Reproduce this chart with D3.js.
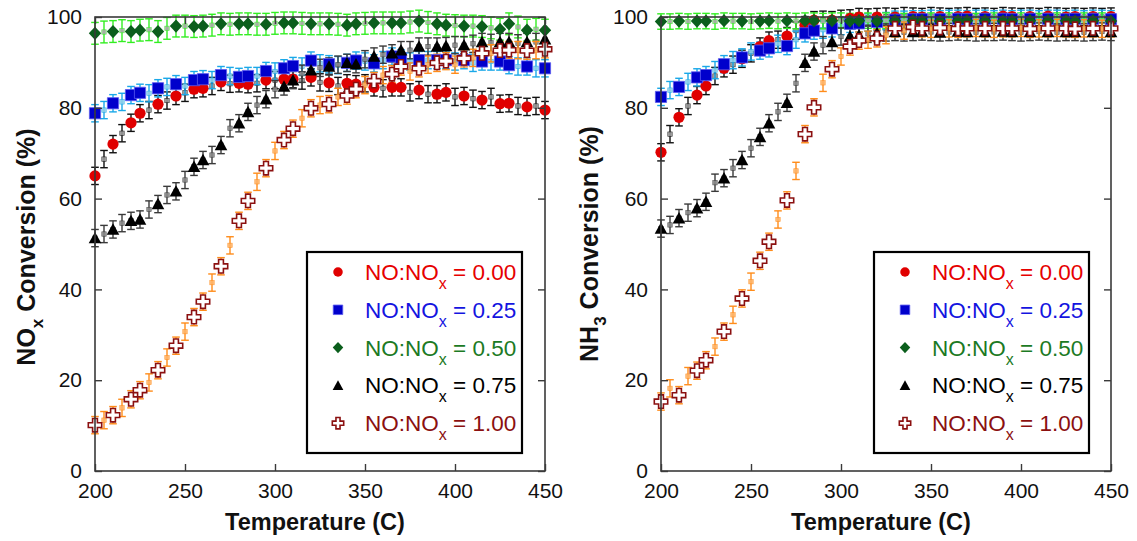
<!DOCTYPE html>
<html><head><meta charset="utf-8">
<script src="https://cdn.jsdelivr.net/npm/d3@7"></script>
<style>body{margin:0;background:#fff}svg{font-family:"Liberation Sans",Arial,sans-serif}</style>
</head><body><svg id="c" width="1137" height="541"></svg>
<script>
// ---- data ----
const temps = [200,205,210,215,220,225,230,235,240,245,250,255,260,265,270,275,280,285,290,295,300,305,310,315,320,325,330,335,340,345,350,355,360,365,370,375,380,385,390,395,400,405,410,415,420,425,430,435,440,445,450];
const markerTemps = [200,210,220,225,235,245,255,260,270,280,285,295,305,310,320,330,340,345,355,365,370,380,390,395,405,415,425,430,440,450];
const xTicks = [200,250,300,350,400,450];
const yTicks = [0,20,40,60,80,100];
const seriesLabels = ["0.00","0.25","0.50","0.75","1.00"];

// NOx conversion (left)
const noxR00 = [65.0,68.7,72.0,74.4,76.7,78.8,79.5,80.8,81.6,82.6,83.3,84.1,84.3,84.8,85.7,85.3,85.4,85.2,85.4,86.1,86.1,86.3,86.3,86.0,86.7,85.6,85.5,84.8,85.4,85.2,85.4,84.5,84.3,84.5,84.5,83.4,83.9,83.0,83.0,83.4,82.4,82.6,82.0,81.7,82.4,80.9,81.0,80.4,80.2,80.4,79.5];
const noxR25 = [78.8,79.5,81.0,81.3,82.8,83.3,83.2,84.3,84.6,85.2,84.8,86.1,86.3,86.1,87.2,87.0,86.8,87.0,87.0,88.1,88.0,88.7,89.2,89.1,90.4,89.8,89.6,89.4,89.9,90.4,90.2,89.8,90.5,91.3,90.9,90.2,90.5,90.5,90.5,90.5,90.2,90.5,89.9,90.2,90.2,90.2,89.4,89.1,89.1,88.7,88.7];
const noxR50 = [96.4,96.7,96.8,97.0,96.8,97.1,97.2,96.8,97.5,98.0,98.0,97.9,98.0,98.2,98.5,98.4,98.5,98.5,98.4,98.4,98.6,98.7,98.7,98.6,98.5,98.5,98.5,98.4,98.2,98.5,98.6,98.7,98.7,98.7,98.7,98.9,99.1,98.8,98.5,98.2,98.1,98.0,98.0,97.9,97.6,97.3,98.5,97.8,97.1,97.3,97.1];
const noxR75 = [51.3,52.2,53.2,54.6,55.1,55.4,57.6,58.8,60.8,61.6,64.1,67.0,68.5,69.6,71.8,75.5,76.6,79.1,80.6,81.9,84.1,84.7,86.1,87.5,88.3,88.8,89.1,89.5,89.9,89.6,90.7,91.3,91.7,92.0,92.7,92.7,93.5,93.5,93.5,93.6,93.8,93.8,94.1,94.5,94.3,94.5,94.5,94.2,94.5,94.5,95.1];
const noxR100 = [10.1,11.2,12.3,13.9,15.8,17.8,19.5,22.2,25.0,27.6,30.7,33.9,37.3,41.5,45.1,49.7,55.1,59.5,63.7,66.7,70.5,72.9,75.4,77.7,79.9,80.6,80.8,82.4,82.7,84.1,85.0,85.9,87.2,87.4,89.1,88.0,88.7,89.5,89.9,90.3,89.5,90.9,91.0,92.0,92.0,92.6,92.7,92.7,92.6,92.7,92.9];

// NH3 conversion (right)
const nh3R00 = [70.2,74.2,77.9,80.4,82.8,84.8,87.0,88.7,89.5,90.8,92.0,93.5,94.8,95.0,95.8,97.0,98.2,99.3,99.4,99.3,99.6,99.7,100.0,99.9,100.0,100.1,100.0,100.2,100.1,100.0,100.2,100.1,100.0,100.1,100.2,100.0,100.1,100.0,100.2,100.1,100.0,100.1,100.0,100.2,100.1,100.0,100.1,100.0,100.1,100.0,100.1];
const nh3R25 = [82.4,83.9,84.6,85.7,86.7,87.2,88.3,89.6,90.5,91.1,92.4,92.6,93.1,94.1,93.6,95.0,96.4,97.0,97.2,97.5,98.0,98.5,98.6,98.8,98.9,99.1,99.4,99.4,99.5,99.5,99.6,99.5,99.6,99.6,99.5,99.6,99.6,99.5,99.6,99.5,99.6,99.6,99.5,99.6,99.6,99.5,99.6,99.5,99.6,99.6,99.5];
const nh3R50 = [99.0,99.0,99.1,99.0,99.1,99.1,99.0,99.2,99.1,99.1,99.0,99.1,99.2,99.1,99.2,99.1,99.2,99.2,99.1,99.2,99.2,99.1,99.2,99.2,99.1,99.2,99.2,99.1,99.2,99.2,99.2,99.1,99.2,99.2,99.2,99.1,99.2,99.2,99.1,99.2,99.2,99.2,99.1,99.2,99.2,99.2,99.1,99.2,99.2,99.2,99.1];
const nh3R75 = [53.4,54.2,55.7,56.9,57.9,59.3,63.5,64.5,66.7,68.5,71.1,73.6,76.6,79.1,81.1,85.4,89.9,92.4,93.8,94.5,95.7,95.7,96.0,96.3,96.5,96.6,96.7,96.6,96.7,96.8,96.7,96.6,96.7,96.8,96.7,96.6,96.7,96.7,96.8,96.7,96.6,96.7,96.8,96.7,96.6,96.7,96.7,96.6,96.7,96.8,96.7];
const nh3R100 = [15.3,18.2,16.7,20.9,22.1,24.4,27.4,30.7,34.4,38.0,41.7,46.3,50.5,55.4,59.6,66.1,74.2,80.1,85.5,88.5,91.3,93.5,94.8,95.0,95.3,96.0,97.5,97.0,97.8,97.5,97.4,97.6,97.5,97.4,97.5,97.6,97.5,97.4,97.5,97.5,97.6,97.4,97.5,97.5,97.6,97.5,97.4,97.5,97.5,97.4,97.5];

const errNox = [1.9,1.9,2.4,1.9,1.9];
const errNh3 = [1.9,1.9,1.7,1.9,1.9];

// ---- styling ----
const markerColor = ["#e00000","#0000cc","#0b5e1c","#000000","#8b1010"];
const legendColor = ["#e60000","#1414e0","#1c7a24","#000000","#8b1010"];
const errColor = ["#111111","#1aa8e8","#33ee22","#3a3a3a","#ff8c1a"];
const smallColor = ["#9a9a9a","#8fd0ea","#aaaaaa","#8a8a8a","#ffb468"];
const shapes = ["circle","square","diamond","triangle","cross"];

const svg = d3.select("#c");

function shapePath(kind, s) {
  const p = d3.path();
  if (kind === "circle") { p.arc(0,0,5.6*s,0,2*Math.PI); }
  else if (kind === "square") { const h=5.6*s; p.rect(-h,-h,2*h,2*h); }
  else if (kind === "diamond") { const w=6.2*s,h=6.6*s; p.moveTo(0,-h);p.lineTo(w,0);p.lineTo(0,h);p.lineTo(-w,0);p.closePath(); }
  else if (kind === "triangle") { const w=6.3*s,h=6.2*s; p.moveTo(0,-h);p.lineTo(w,h*0.85);p.lineTo(-w,h*0.85);p.closePath(); }
  else if (kind === "cross") { const a=2.4*s,b=6.7*s;
    p.moveTo(-a,-b);p.lineTo(a,-b);p.lineTo(a,-a);p.lineTo(b,-a);p.lineTo(b,a);p.lineTo(a,a);p.lineTo(a,b);
    p.lineTo(-a,b);p.lineTo(-a,a);p.lineTo(-b,a);p.lineTo(-b,-a);p.lineTo(-a,-a);p.closePath(); }
  return p.toString();
}
function styleMarker(sel, i) {
  if (shapes[i] === "cross") sel.attr("fill","#fff").attr("stroke",markerColor[i]).attr("stroke-width",1.6);
  else if (shapes[i] === "square") sel.attr("fill",markerColor[i]).attr("stroke","#5a5af0").attr("stroke-width",0.8);
  else sel.attr("fill",markerColor[i]).attr("stroke","none");
}

function panel(cfg) {
  const x = d3.scaleLinear().domain([200,450]).range([cfg.x0, cfg.x1]);
  const y = d3.scaleLinear().domain([0,100]).range([471,17]);
  const g = svg.append("g");

  // error bars + small markers
  cfg.series.forEach((vals, i) => {
    const e = cfg.err[i];
    const eb = g.append("g").attr("stroke", errColor[i]).attr("stroke-width",1.4).attr("fill","none");
    temps.forEach((t, k) => {
      const cx = x(t), v = vals[k];
      eb.append("line").attr("x1",cx).attr("x2",cx).attr("y1",y(v-e)).attr("y2",y(v+e));
      eb.append("line").attr("x1",cx-3.8).attr("x2",cx+3.8).attr("y1",y(v-e)).attr("y2",y(v-e));
      eb.append("line").attr("x1",cx-3.8).attr("x2",cx+3.8).attr("y1",y(v+e)).attr("y2",y(v+e));
      g.append("rect").attr("x",cx-2.2).attr("y",y(v)-2.2).attr("width",4.4).attr("height",4.4)
        .attr("fill",smallColor[i]).attr("stroke",errColor[i]).attr("stroke-width",0.6).attr("opacity",0.85);
    });
  });
  // big markers
  cfg.series.forEach((vals, i) => {
    const pts = temps.map((t,k)=>({t, v: vals[k]})).filter(d => markerTemps.includes(d.t));
    g.selectAll(null).data(pts).enter().append("path")
      .attr("d", shapePath(shapes[i], 1))
      .attr("transform", d => `translate(${x(d.t)},${y(d.v)})`)
      .call(styleMarker, i);
  });

  // frame
  g.append("rect").attr("x",cfg.x0).attr("y",17).attr("width",cfg.x1-cfg.x0).attr("height",471-17)
    .attr("fill","none").attr("stroke","#3a3a3a").attr("stroke-width",1.6);

  const fs = "21px";
  const ax = g.append("g").attr("transform","translate(0,471)")
    .call(d3.axisBottom(x).tickValues(xTicks).tickSize(-7).tickPadding(12).tickFormat(d3.format("d")));
  const ay = g.append("g").attr("transform",`translate(${cfg.x0},0)`)
    .call(d3.axisLeft(y).tickValues(yTicks).tickSize(-7).tickPadding(13).tickFormat(d3.format("d")));
  const at = g.append("g").attr("transform","translate(0,17)")
    .call(d3.axisTop(x).tickValues(xTicks).tickSize(-7).tickFormat(""));
  const ar = g.append("g").attr("transform",`translate(${cfg.x1},0)`)
    .call(d3.axisRight(y).tickValues(yTicks).tickSize(-7).tickFormat(""));
  [ax,ay,at,ar].forEach(a => {
    a.select(".domain").remove();
    a.selectAll(".tick line").attr("stroke","#3a3a3a").attr("stroke-width",1.4);
    a.selectAll("text").attr("font-size",fs).attr("fill","#111").attr("font-family",'"Liberation Sans",Arial,sans-serif');
  });

  // x title
  g.append("text").attr("x",(cfg.x0+cfg.x1)/2-5).attr("y",530).attr("text-anchor","middle")
    .attr("font-size","23.5px").attr("font-weight","bold").attr("fill","#111").text("Temperature (C)");
  // y title
  const yt = g.append("text").attr("transform",`translate(${cfg.ytx},${cfg.yty}) rotate(-90)`)
    .attr("text-anchor","middle").attr("font-size","25px").attr("font-weight","bold").attr("fill","#111");
  yt.append("tspan").text(cfg.yMain);
  yt.append("tspan").attr("font-size","17px").attr("dy",8).text(cfg.ySub);
  yt.append("tspan").attr("dy",-8).text(" Conversion (%)");

  // legend
  const lg = g.append("g");
  lg.append("rect").attr("x",cfg.lx).attr("y",252).attr("width",215).attr("height",201)
    .attr("fill","#fff").attr("stroke","#000").attr("stroke-width",2.2);
  seriesLabels.forEach((lab, i) => {
    const cy = 272 + i*37.8;
    const m = lg.append("path").attr("d", shapePath(shapes[i], 0.85))
      .attr("transform",`translate(${cfg.lx+31},${cy})`);
    styleMarker(m, i);
    const t = lg.append("text").attr("x",cfg.lx+58).attr("y",cy+8).attr("font-size","22.5px").attr("fill",legendColor[i]);
    t.append("tspan").text("NO:NO");
    t.append("tspan").attr("font-size","16px").attr("dy",9).text("x");
    t.append("tspan").attr("dy",-9).text(" = " + lab);
  });
}

panel({x0:95, x1:545, series:[noxR00,noxR25,noxR50,noxR75,noxR100], err:errNox,
  ytx:35, yty:247, yMain:"NO", ySub:"x", lx:307});
panel({x0:661, x1:1111, series:[nh3R00,nh3R25,nh3R50,nh3R75,nh3R100], err:errNh3,
  ytx:598, yty:244, yMain:"NH", ySub:"3", lx:874});
</script></body></html>
